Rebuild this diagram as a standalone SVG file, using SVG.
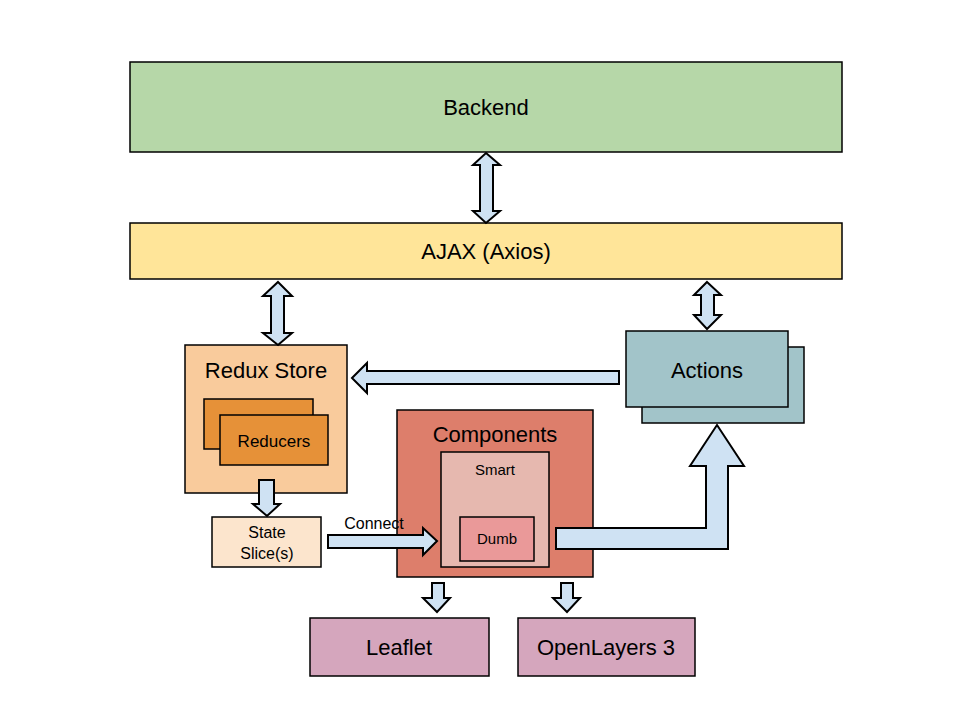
<svg xmlns="http://www.w3.org/2000/svg" width="960" height="720" viewBox="0 0 960 720">
<style>
.box{stroke:#000;stroke-width:1.5}
.arr{fill:#cfe2f3;stroke:#000;stroke-width:2;stroke-linejoin:miter}
text{font-family:"Liberation Sans",Arial,sans-serif;fill:#000;text-anchor:middle}
</style>
<rect width="960" height="720" fill="#fff"/>
<g id="backend">
<rect class="box" x="130" y="62" width="712" height="90" fill="#b6d7a8"/>
<text x="486" y="115" font-size="22">Backend</text>
</g>
<g id="ajax">
<rect class="box" x="130" y="223" width="712" height="56" fill="#ffe599"/>
<text x="486" y="259" font-size="22">AJAX (Axios)</text>
</g>
<g id="redux-store">
<rect class="box" x="185" y="345" width="162" height="148" fill="#f9cb9c"/>
<text x="266" y="378" font-size="22">Redux Store</text>
</g>
<g id="reducers">
<rect class="box" x="204" y="399" width="109" height="50" fill="#e69138"/>
<rect class="box" x="220" y="415" width="108" height="50" fill="#e69138"/>
<text x="274" y="447" font-size="17">Reducers</text>
</g>
<g id="state-slices">
<rect class="box" x="212" y="517" width="109" height="50" fill="#fce5cd"/>
<text x="267" y="538" font-size="16">State</text>
<text x="267" y="559" font-size="16">Slice(s)</text>
</g>
<g id="actions">
<rect class="box" x="642" y="347" width="162" height="76" fill="#a2c4c9"/>
<rect class="box" x="626" y="331" width="162" height="76" fill="#a2c4c9"/>
<text x="707" y="378" font-size="22">Actions</text>
</g>
<g id="components">
<rect class="box" x="397" y="410" width="196" height="167" fill="#dd7e6b"/>
<text x="495" y="442" font-size="22">Components</text>
</g>
<g id="smart">
<rect class="box" x="441" y="452" width="108" height="115" fill="#e6b8af"/>
<text x="495" y="475" font-size="15">Smart</text>
</g>
<g id="dumb">
<rect class="box" x="460" y="517" width="74" height="44" fill="#ea9999"/>
<text x="497" y="544" font-size="15">Dumb</text>
</g>
<g id="leaflet">
<rect class="box" x="310" y="618" width="179" height="58" fill="#d5a6bd"/>
<text x="399" y="655" font-size="22">Leaflet</text>
</g>
<g id="openlayers">
<rect class="box" x="518" y="618" width="177" height="58" fill="#d5a6bd"/>
<text x="606" y="655" font-size="22">OpenLayers 3</text>
</g>
<g id="connectors">
<polygon class="arr" points="486,153 500,165 493,165 493,211 500,211 486,223 473,211 480,211 480,165 473,165"/>
<polygon class="arr" points="278,282 292,296 284,296 284,333 292,333 278,345 263,333 271,333 271,296 263,296"/>
<polygon class="arr" points="707,282 721,295 714,295 714,315 721,315 707,329 694,315 701,315 701,295 694,295"/>
<polygon class="arr" points="352,378 367,363 367,371 619,371 619,384 367,384 367,393"/>
<polygon class="arr" points="259,480 274,480 274,504 280,504 267,516 253,504 259,504"/>
<polygon class="arr" points="328,535 423,535 423,528 437,541 423,555 423,548 328,548"/>
<polygon class="arr" points="556,528 706,528 706,466 690,466 717,425 744,466 728,466 728,549 556,549"/>
<polygon class="arr" points="432,583 444,583 444,598 450,598 437,612 423,598 432,598"/>
<polygon class="arr" points="561,583 573,583 573,598 580,598 567,612 553,598 561,598"/>
<text x="374" y="529" font-size="16">Connect</text>
</g>
</svg>
